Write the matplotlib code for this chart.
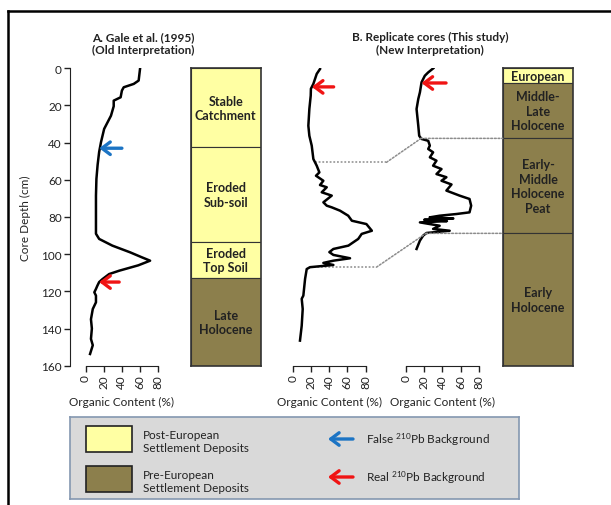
import numpy as np
import matplotlib
matplotlib.use("Agg")
import matplotlib.pyplot as plt
from matplotlib.patches import Rectangle, ConnectionPatch
from matplotlib.lines import Line2D

plt.rcParams['font.family'] = ['Lato', 'DejaVu Sans']
plt.rcParams['mathtext.default'] = 'regular'

# ---- data ----
# A. Gale et al. (1995) organic content profile
depth_a = [0, 6.6, 8.4, 10.2, 12, 15.6, 17.4, 20.4, 25.5, 32.6, 39.8, 45, 52, 59.5,
           68.5, 81, 89, 91.8, 95.4, 99, 101.7, 103.5, 106, 108.9, 110.7, 113.4, 115,
           117, 118.7, 120.5, 122.3, 125.9, 129.5, 135, 140, 145.6, 149, 153.7]
oc_a = [60, 58.4, 53, 42, 40, 38.6, 31, 31, 28, 20.5, 17, 15, 13.3, 12,
        11.5, 11.5, 11.5, 15, 29.5, 49, 62, 71, 58, 37, 26, 18.7, 15,
        13, 11.5, 9.7, 11.5, 11.5, 8, 6, 7, 6, 8, 5]

# B. replicate core 1
depth_b1 = [0.4, 3, 8.4, 11, 14.7, 21.9, 30.9, 36.3, 41.6, 48.8, 52.4, 56, 57.8, 60.5,
            62.8, 64, 66.7, 68.5, 72.1, 73.9, 74.8, 76.6, 79.3, 82, 83.8, 87.4, 89.1,
            91.8, 95.4, 97.2, 98.9, 100.4, 102.2, 103.5, 104.7, 105.8, 107, 108, 113.3,
            122.3, 124, 129.5, 138.5, 146.5]
oc_b1 = [30, 26.4, 22.7, 20, 19.8, 18.3, 17.2, 18.3, 20.9, 22.7, 26.4, 29.3, 25.6, 33.7,
         30, 37.4, 31.9, 42.9, 33.7, 37.4, 42.9, 52, 61, 65, 81, 87, 75.8,
         72, 61.2, 44.7, 40.3, 44.7, 63, 44.7, 33.7, 44.7, 19, 15.4, 13.6,
         11.7, 9.9, 11, 9.9, 8]

# B. replicate core 2
depth_b2 = [0, 2.2, 4, 7.5, 12.9, 16.5, 21.9, 30.9, 36.3, 38, 39, 41.6, 43.4, 45.2,
            47.9, 49.7, 52.4, 54.2, 56.9, 58.6, 60.5, 62.5, 65.8, 68.5, 70.3, 73.9,
            77.5, 78.4, 79.3, 80.2, 80.8, 81.5, 82.2, 82.9, 84.7, 86.4, 87.4, 88.6,
            90, 92.7, 97.2]
oc_b2 = [30, 24.4, 20.7, 17.1, 15.3, 13.5, 11.6, 13.5, 14.5, 17, 24.4, 26.2, 24.4, 29.8,
         26.2, 33.5, 29.8, 39, 33.5, 44.4, 39, 50, 44.4, 58.9, 69.8, 71.6,
         69.8, 55.3, 37, 26, 52, 20, 45, 15.3, 37, 29.8, 48, 22.5,
         18.9, 15.3, 11.6]

# stratigraphic units (top, bottom, label, post-European?)
units_a_top = [0, 42.5, 93.3, 113]
units_a_bot = [42.5, 93.3, 113, 160]
units_a_lab = ['Stable\nCatchment', 'Eroded\nSub-soil', 'Eroded\nTop Soil', 'Late\nHolocene']
units_a_post = [True, True, True, False]

units_b_top = [0, 7.9, 37.7, 88.8]
units_b_bot = [7.9, 37.7, 88.8, 160]
units_b_lab = ['European', 'Middle-\nLate\nHolocene', 'Early-\nMiddle\nHolocene\nPeat',
               'Early\nHolocene']
units_b_post = [True, False, False, False]

# 210Pb background markers (depth, organic content at arrow tip)
false_bg_a = (43, 15)
real_bg_a = (115, 15)
real_bg_b1 = (10, 21)
real_bg_b2 = (7.9, 17)

# core correlation depths (core 1 -> core 2)
corr_b1 = [50.6, 107]
corr_b2 = [37.7, 88.8]

depth_ticks = [0, 20, 40, 60, 80, 100, 120, 140, 160]
oc_ticks = [0, 20, 40, 60, 80]

# ---- layout ----
W, H = 611, 506
TOP, DEPTH_H = 69.3, 297.4
K = 0.91  # pixels per % organic content
YELLOW = '#FFFFA3'
BROWN = '#8C7F4C'
BLUE = '#1C74C4'
RED = '#F01414'
TXT = '#222222'
FS = 8.5


def px_rect(left, top, width, height):
    return [left / W, 1 - (top + height) / H, width / W, height / H]


fig = plt.figure(figsize=(W / 100, H / 100), dpi=100)


def core_axes(zero_px, xlo, xhi, show_depth):
    ax = fig.add_axes(px_rect(zero_px + xlo * K, TOP, (xhi - xlo) * K, DEPTH_H))
    ax.set_xlim(xlo, xhi)
    ax.set_ylim(160, 0)
    ax.set_facecolor('none')
    ax.spines['top'].set_visible(False)
    ax.spines['right'].set_visible(False)
    ax.spines['bottom'].set_bounds(0, 80)
    ax.spines['bottom'].set_color(TXT)
    ax.set_xticks(oc_ticks)
    ax.tick_params(axis='x', labelrotation=90, length=4, width=1, pad=2,
                   labelsize=FS, colors=TXT)
    if show_depth:
        ax.spines['left'].set_bounds(0, 160)
        ax.spines['left'].set_color(TXT)
        ax.set_yticks(depth_ticks)
        ax.tick_params(axis='y', length=4, width=1, pad=2, labelsize=FS, colors=TXT)
        ax.set_ylabel('Core Depth (cm)', fontsize=FS, labelpad=7, color=TXT)
    else:
        ax.spines['left'].set_visible(False)
        ax.set_yticks([])
    ax.set_xlabel('Organic Content (%)', fontsize=FS, labelpad=6, color=TXT)
    ax.xaxis.label.set_x((40 - xlo) / (xhi - xlo))
    return ax


def column_axes(left, width, tops, bots, labels, post):
    ax = fig.add_axes(px_rect(left, TOP, width, DEPTH_H))
    ax.set_xlim(0, 1)
    ax.set_ylim(160, 0)
    ax.set_xticks([])
    ax.set_yticks([])
    for s in ax.spines.values():
        s.set_color('#333333')
        s.set_linewidth(1.2)
    for t, b, lab, p in zip(tops, bots, labels, post):
        ax.bar(0.5, b - t, bottom=t, width=1, color=YELLOW if p else BROWN,
               edgecolor='#333333', linewidth=0.8)
        ax.text(0.5, (t + b) / 2, lab, ha='center', va='center', fontsize=9,
                fontweight='bold', color=TXT, linespacing=1.25)
    return ax


def bg_arrow(ax, marker, color, length=25):
    d, x = marker
    ax.annotate('', xy=(x, d), xytext=(x + length, d),
                arrowprops=dict(arrowstyle='->,head_length=0.6,head_width=0.45',
                                lw=2.4, color=color, shrinkA=0, shrinkB=0))


# Panel A
ax_a = core_axes(85.5, -17, 88, True)
ax_a.plot(oc_a, depth_a, color='black', lw=1.8)
bg_arrow(ax_a, false_bg_a, BLUE)
bg_arrow(ax_a, real_bg_a, RED, 22)
col_a = column_axes(190.7, 70, units_a_top, units_a_bot, units_a_lab, units_a_post)

# Panel B
ax_b1 = core_axes(292.7, -5, 88, False)
ax_b1.plot(oc_b1, depth_b1, color='black', lw=1.8)
bg_arrow(ax_b1, real_bg_b1, RED, 24)
ax_b2 = core_axes(406, -5, 88, False)
ax_b2.plot(oc_b2, depth_b2, color='black', lw=1.8)
bg_arrow(ax_b2, real_bg_b2, RED, 27)
col_b = column_axes(502.7, 70.6, units_b_top, units_b_bot, units_b_lab, units_b_post)

# dotted correlation lines
dot = dict(color='#8C8C8C', lw=1.1, linestyle=(0, (1.2, 1.2)))
for d1, d2, kink in zip(corr_b1, corr_b2, [103, 92]):
    x1 = np.interp(d1, depth_b1, oc_b1)
    x2 = np.interp(d2, depth_b2, oc_b2)
    ax_b1.plot([x1, kink], [d1, d1], clip_on=False, zorder=1, **dot)
    fig.add_artist(ConnectionPatch((kink, d1), (x2, d2), coordsA=ax_b1.transData,
                                   coordsB=ax_b2.transData, **dot))
    fig.add_artist(ConnectionPatch((x2, d2), (0, d2), coordsA=ax_b2.transData,
                                   coordsB=col_b.transData, **dot))

# titles
fig.text(143 / W, 1 - 44 / H, 'A. Gale et al. (1995)\n(Old Interpretation)',
         ha='center', va='center', fontsize=8.5, fontweight='bold', color=TXT,
         linespacing=1.25)
fig.text(430 / W, 1 - 44 / H, 'B. Replicate cores (This study)\n(New Interpretation)',
         ha='center', va='center', fontsize=8.5, fontweight='bold', color=TXT,
         linespacing=1.25)

# legend box
leg = fig.add_axes(px_rect(70, 418, 449, 82))
leg.set_xlim(0, 449)
leg.set_ylim(82, 0)
leg.set_xticks([])
leg.set_yticks([])
leg.set_facecolor('#D9D9D9')
for s in leg.spines.values():
    s.set_edgecolor('#8497B0')
    s.set_linewidth(1.2)
leg.add_patch(Rectangle((16, 9), 46, 26, fc=YELLOW, ec='#222222', lw=1.2))
leg.add_patch(Rectangle((16, 49), 46, 26, fc=BROWN, ec='#222222', lw=1.2))
leg.text(73, 24, 'Post-European\nSettlement Deposits', va='center', fontsize=FS,
         color=TXT, linespacing=1.3)
leg.text(73, 64, 'Pre-European\nSettlement Deposits', va='center', fontsize=FS,
         color=TXT, linespacing=1.3)
for y, c, lab in [(22, BLUE, 'False $^{210}$Pb Background'),
                  (60, RED, 'Real $^{210}$Pb Background')]:
    leg.annotate('', xy=(258, y), xytext=(283, y),
                 arrowprops=dict(arrowstyle='->,head_length=0.6,head_width=0.45',
                                 lw=2.4, color=c, shrinkA=0, shrinkB=0))
    leg.text(296, y, lab, va='center', fontsize=FS, color=TXT)

# outer frame (top and left edges visible)
fig.add_artist(Line2D([8 / W, 1], [1 - 12 / H, 1 - 12 / H], transform=fig.transFigure,
                      color='black', lw=1.8))
fig.add_artist(Line2D([8 / W, 8 / W], [0, 1 - 12 / H], transform=fig.transFigure,
                      color='black', lw=1.8))

fig.savefig('out.png', dpi=100)
